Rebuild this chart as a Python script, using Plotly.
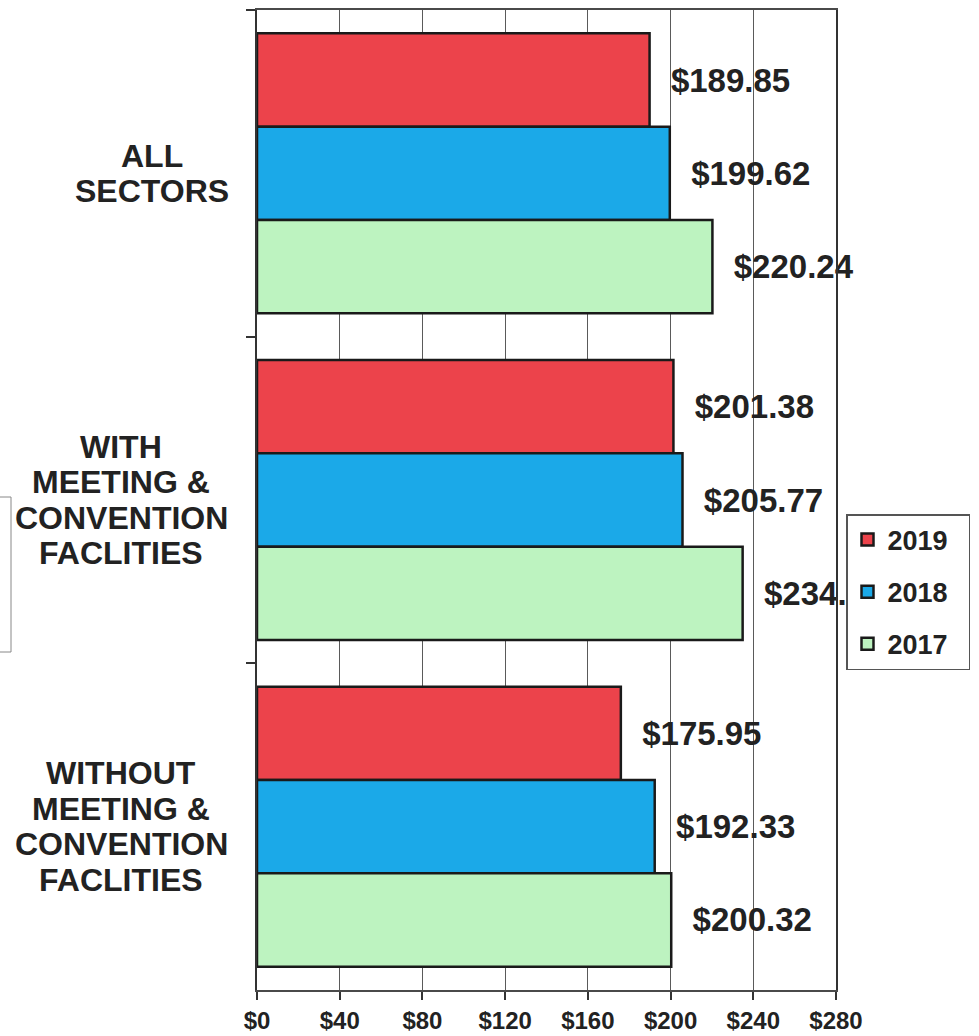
import plotly.graph_objects as go

# DATA
categories = ["ALL SECTORS", "WITH MEETING & CONVENTION FACLITIES", "WITHOUT MEETING & CONVENTION FACLITIES"]
category_lines = [["ALL", "SECTORS"],
                  ["WITH", "MEETING &", "CONVENTION", "FACLITIES"],
                  ["WITHOUT", "MEETING &", "CONVENTION", "FACLITIES"]]
years = ["2019", "2018", "2017"]
values_2019 = [189.85, 201.38, 175.95]
values_2018 = [199.62, 205.77, 192.33]
values_2017 = [220.24, 234.85, 200.32]
x_tickvals = [0, 40, 80, 120, 160, 200, 240, 280]
x_ticktext = ["$0", "$40", "$80", "$120", "$160", "$200", "$240", "$280"]

_series = [values_2019, values_2018, values_2017]
_colors = ['#EC434B', '#1BA9E8', '#BDF3C0']
_font = 'Liberation Sans, Arial, sans-serif'
_text_color = '#222222'

# plot area in pixels
_W, _H = 979, 1036
_left, _right, _top, _bottom = 257, 836, 10, 990

fig = go.Figure()

for i, year in enumerate(years):
    fig.add_trace(go.Bar(
        y=categories,
        x=_series[i],
        orientation='h',
        name=year + '\u00a0\u00a0',  # trailing pad widens the legend box like the original
        legendgroup=year,
        marker=dict(color=_colors[i], line=dict(color='#1a1a1a', width=2.5)),
        text=['\u00a0\u00a0$%.2f' % v for v in _series[i]],
        textposition='outside',
        textfont=dict(family=_font, size=33, color=_text_color, weight='bold'),
        constraintext='none',
        cliponaxis=False,
        hoverinfo='x+name',
    ))

# category labels, each line centred in a block right-aligned near the axis
annotations = []
_centers = [152, 121, 121]  # px centre of each label block
_line_h = 35.5
for c, lines in enumerate(category_lines):
    n = len(lines)
    for j, line in enumerate(lines):
        annotations.append(dict(
            xref='paper', yref='y', x=0, y=categories[c],
            xanchor='center', yanchor='middle',
            xshift=_centers[c] - _left,
            yshift=((n - 1) / 2 - j) * _line_h,
            text=line, showarrow=False,
            font=dict(family=_font, size=32, color=_text_color, weight='bold'),
        ))

_pw = _right - _left
_ph = _bottom - _top

fig.update_layout(
    width=_W, height=_H,
    margin=dict(l=_left, r=_W - _right, t=_top, b=_H - _bottom, autoexpand=False),
    barmode='group',
    bargap=0.143,
    bargroupgap=0,
    paper_bgcolor='white',
    plot_bgcolor='white',
    font=dict(family=_font, color=_text_color),
    xaxis=dict(
        range=[0, 280],
        tickvals=x_tickvals,
        ticktext=x_ticktext,
        showgrid=True, gridcolor='#5a5a5a', gridwidth=1,
        zeroline=False,
        showline=True, linecolor='#4a4a4a', linewidth=1.5, mirror=True,
        ticks='outside', ticklen=8, tickcolor='#333333', tickwidth=1.5,
        ticklabelstandoff=0,
        tickfont=dict(family=_font, size=24, color=_text_color, weight='bold'),
        fixedrange=True,
    ),
    yaxis=dict(
        autorange='reversed',
        showticklabels=False,
        showgrid=False,
        showline=True, linecolor='#333333', linewidth=1.5, mirror=True,
        ticks='outside', tickson='boundaries', ticklen=9, tickcolor='#333333', tickwidth=1.5,
        fixedrange=True,
    ),
    showlegend=True,
    legend=dict(
        x=(846 - _left) / _pw, xanchor='left',
        y=(_bottom - 514) / _ph, yanchor='top',
        bgcolor='white', bordercolor='#555555', borderwidth=1.5,
        font=dict(family=_font, size=27, color=_text_color, weight='bold'),
        tracegroupgap=14,
        itemwidth=30,
    ),
    annotations=annotations,
    shapes=[
        # partial frame of a neighbouring text box at the left edge of the scan
        dict(type='rect', xref='paper', yref='paper',
             x0=(-30 - _left) / _pw, x1=(11 - _left) / _pw,
             y0=(_bottom - 652) / _ph, y1=(_bottom - 497) / _ph,
             line=dict(color='#888888', width=1), fillcolor='rgba(0,0,0,0)', layer='above'),
    ],
)

fig.write_html("out.html", config={'displayModeBar': False},
               post_script="document.body.style.margin='0';")
